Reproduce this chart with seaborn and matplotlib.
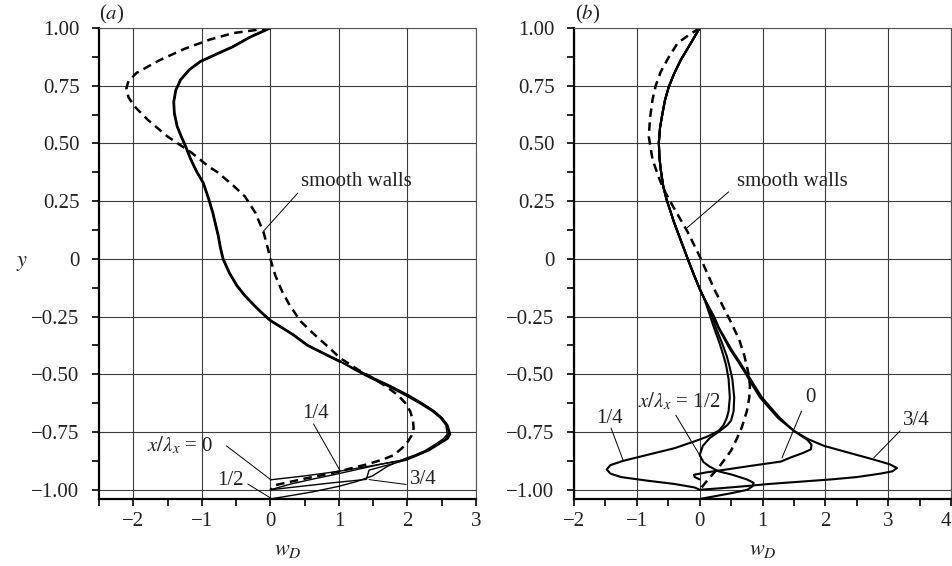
import matplotlib
matplotlib.use("Agg")
import matplotlib.pyplot as plt
import seaborn as sns
from matplotlib.ticker import MultipleLocator, FixedLocator, FixedFormatter

sns.set_style("ticks")
plt.rcParams["font.family"] = ["Liberation Serif", "DejaVu Serif"]
plt.rcParams["mathtext.fontset"] = "stix"

# ---------------- panel (a) data ----------------
A_SMOOTH_Y = [1.0, 0.978, 0.95, 0.91, 0.86, 0.806, 0.77, 0.74, 0.70, 0.66, 0.60, 0.53, 0.46, 0.40,
              0.375, 0.32, 0.27, 0.20, 0.116, 0.05, 0.0, -0.07, -0.14, -0.2, -0.27, -0.33, -0.38,
              -0.43, -0.48, -0.517, -0.555, -0.59, -0.625, -0.66, -0.70, -0.733, -0.765, -0.79,
              -0.82, -0.85, -0.87, -0.89, -0.905, -0.92, -0.935, -0.95, -0.965, -0.98, -1.0]
A_SMOOTH_X = [0, -0.54, -0.88, -1.25, -1.62, -1.95, -2.07, -2.10, -2.07, -1.98, -1.78, -1.50, -1.15,
              -0.90, -0.77, -0.55, -0.37, -0.22, -0.1, -0.04, 0.0, 0.07, 0.17, 0.28, 0.44, 0.65,
              0.84, 1.02, 1.28, 1.5, 1.70, 1.86, 1.97, 2.04, 2.08, 2.09, 2.06, 2.01, 1.92, 1.80,
              1.63, 1.41, 1.2, 1.02, 0.78, 0.53, 0.3, 0.07, 0.0]

A_ROUGH_Y_UP = [1.0, 0.96, 0.92, 0.885, 0.855, 0.82, 0.776, 0.73, 0.68, 0.63, 0.574, 0.53, 0.49,
                0.43, 0.375, 0.33, 0.26, 0.20, 0.10, 0.05, 0.0, -0.06, -0.115, -0.16, -0.2, -0.235,
                -0.267, -0.30, -0.33, -0.374, -0.41, -0.445]
A_ROUGH_X_UP = [0, -0.3, -0.54, -0.8, -1.02, -1.18, -1.31, -1.38, -1.41, -1.40, -1.36, -1.30, -1.24,
                -1.16, -1.07, -0.98, -0.90, -0.84, -0.76, -0.73, -0.69, -0.60, -0.49, -0.37, -0.24,
                -0.12, 0.0, 0.18, 0.34, 0.54, 0.78, 1.02]

A_TAIL_Y_0 = [-0.48, -0.517, -0.55, -0.59, -0.625, -0.66, -0.69, -0.72, -0.76, -0.78, -0.80, -0.83,
              -0.85, -0.87, -0.895, -0.92, -0.94, -0.957]
A_TAIL_X_0 = [1.24, 1.48, 1.72, 1.98, 2.19, 2.37, 2.49, 2.57, 2.62, 2.57, 2.47, 2.30, 2.15, 1.98,
              1.5, 1.0, 0.5, 0.0]
A_TAIL_Y_14 = [-0.48, -0.517, -0.55, -0.59, -0.625, -0.66, -0.69, -0.72, -0.76, -0.78, -0.80, -0.83,
               -0.85, -0.87, -0.89, -0.91, -0.93, -0.955, -0.975, -1.0]
A_TAIL_X_14 = [1.27, 1.52, 1.76, 2.02, 2.22, 2.40, 2.51, 2.58, 2.60, 2.55, 2.45, 2.28, 2.12, 1.95,
               1.6, 1.3, 1.0, 0.6, 0.3, 0.0]
A_TAIL_Y_12 = [-0.48, -0.517, -0.55, -0.59, -0.625, -0.66, -0.69, -0.72, -0.76, -0.78, -0.80, -0.83,
               -0.85, -0.87, -0.90, -0.94, -0.965, -0.985, -1.01, -1.04]
A_TAIL_X_12 = [1.22, 1.46, 1.70, 1.96, 2.17, 2.36, 2.48, 2.56, 2.58, 2.52, 2.42, 2.26, 2.10, 1.92,
               1.7, 1.49, 1.25, 1.0, 0.6, 0.0]
A_TAIL_Y_34 = [-0.48, -0.517, -0.55, -0.59, -0.625, -0.66, -0.69, -0.72, -0.76, -0.78, -0.80, -0.83,
               -0.85, -0.87, -0.89, -0.915, -0.955, -0.97, -0.985, -1.0]
A_TAIL_X_34 = [1.25, 1.50, 1.74, 2.00, 2.21, 2.39, 2.51, 2.59, 2.63, 2.59, 2.48, 2.32, 2.16, 2.00,
               1.75, 1.44, 1.40, 0.9, 0.45, 0.0]

# ---------------- panel (b) data ----------------
B_SMOOTH_Y = [1.0, 0.97, 0.935, 0.87, 0.81, 0.75, 0.69, 0.61, 0.53, 0.43, 0.345, 0.30, 0.23, 0.116,
              0.0, -0.13, -0.2, -0.27, -0.35, -0.418, -0.5, -0.55, -0.6, -0.66, -0.73, -0.78, -0.83,
              -0.86, -0.905, -0.935, -0.96, -0.99, -1.0]
B_SMOOTH_X = [0, -0.17, -0.35, -0.5, -0.62, -0.70, -0.75, -0.79, -0.81, -0.75, -0.64, -0.57, -0.43,
              -0.19, 0.02, 0.23, 0.36, 0.49, 0.63, 0.71, 0.78, 0.80, 0.79, 0.75, 0.67, 0.59, 0.5,
              0.42, 0.3, 0.2, 0.12, 0.03, 0.0]

B_ROUGH_Y_UP = [1.0, 0.93, 0.862, 0.8, 0.746, 0.69, 0.633, 0.57, 0.504, 0.44, 0.388, 0.315, 0.26,
                0.16, 0.08, 0.0, -0.07, -0.13, -0.17]
B_ROUGH_X_UP = [0, -0.15, -0.3, -0.41, -0.49, -0.55, -0.59, -0.63, -0.65, -0.64, -0.62, -0.58, -0.53,
                -0.41, -0.3, -0.19, -0.09, 0.0, 0.07]

B_TAIL_Y_14 = [-0.25, -0.3, -0.36, -0.42, -0.46, -0.52, -0.6, -0.66, -0.69, -0.72, -0.745, -0.77,
               -0.79, -0.82, -0.85, -0.875, -0.893, -0.912, -0.93, -0.945, -0.96, -0.975, -0.99, -1.0]
B_TAIL_X_14 = [0.17, 0.23, 0.31, 0.38, 0.42, 0.46, 0.48, 0.46, 0.43, 0.38, 0.3, 0.12, -0.08, -0.4,
               -0.85, -1.22, -1.42, -1.48, -1.42, -1.25, -0.85, -0.4, -0.08, 0.0]
B_TAIL_Y_12 = [-0.25, -0.3, -0.36, -0.42, -0.46, -0.52, -0.6, -0.66, -0.7, -0.72, -0.75, -0.776,
               -0.81, -0.85, -0.88, -0.9, -0.92, -0.935, -0.955, -0.97, -0.985, -1.0, -1.015, -1.025,
               -1.04]
B_TAIL_X_12 = [0.2, 0.26, 0.35, 0.43, 0.47, 0.52, 0.55, 0.54, 0.5, 0.44, 0.3, 0.16, 0.05, 0.0, 0.06,
               0.16, 0.3, 0.52, 0.75, 0.86, 0.84, 0.76, 0.5, 0.3, 0.0]
B_TAIL_Y_0 = [-0.25, -0.3, -0.39, -0.44, -0.5, -0.53, -0.6, -0.65, -0.69, -0.745, -0.785, -0.805,
              -0.825, -0.84, -0.86, -0.878, -0.895, -0.914, -0.925, -0.935, -0.945, -0.955]
B_TAIL_X_0 = [0.22, 0.3, 0.48, 0.6, 0.74, 0.8, 0.96, 1.12, 1.25, 1.5, 1.72, 1.78, 1.77, 1.65, 1.45,
              1.29, 0.85, 0.38, 0.1, -0.09, -0.08, 0.0]
B_TAIL_Y_34 = [-0.25, -0.3, -0.39, -0.44, -0.5, -0.53, -0.6, -0.65, -0.69, -0.745, -0.78, -0.81,
               -0.84, -0.87, -0.89, -0.906, -0.92, -0.93, -0.945, -0.955, -0.965, -0.975, -0.985,
               -0.993, -1.0]
B_TAIL_X_34 = [0.23, 0.31, 0.5, 0.62, 0.76, 0.83, 0.99, 1.15, 1.28, 1.5, 1.72, 1.98, 2.38, 2.78,
               3.03, 3.14, 3.07, 2.88, 2.5, 2.1, 1.6, 1.1, 0.7, 0.35, 0.0]

# ---------------- axis ticks ----------------
Y_TICKS = [1.0, 0.75, 0.5, 0.25, 0.0, -0.25, -0.5, -0.75, -1.0]
Y_LABELS = ["1.00", "0.75", "0.50", "0.25", "0", "\u22120.25", "\u22120.50", "\u22120.75", "\u22121.00"]
XA_TICKS = [-2, -1, 0, 1, 2, 3]
XA_LABELS = ["\u22122", "\u22121", "0", "1", "2", "3"]
XB_TICKS = [-2, -1, 0, 1, 2, 3, 4]
XB_LABELS = ["\u22122", "\u22121", "0", "1", "2", "3", "4"]

FS = 15
W, H = 953, 566
fig = plt.figure(figsize=(W / 100, H / 100), dpi=100)
ax_a = fig.add_axes([99 / W, 67 / H, 377 / W, 471 / H])
ax_b = fig.add_axes([574 / W, 67 / H, 377 / W, 471 / H])
TXT = "#222222"


def line(ax, x, y, lw, dashed=False):
    kw = dict(sort=False, estimator=None, ax=ax, color="black", lw=lw, legend=False)
    if dashed:
        kw["linestyle"] = (0, (3.4, 2.2))
    sns.lineplot(x=x, y=y, **kw)


def style(ax, xlim, xt, xl):
    ax.set_xlim(*xlim)
    ax.set_ylim(-1.04, 1.0)
    ax.xaxis.set_major_locator(FixedLocator(xt))
    ax.xaxis.set_major_formatter(FixedFormatter(xl))
    ax.xaxis.set_minor_locator(MultipleLocator(0.5))
    ax.yaxis.set_major_locator(FixedLocator(Y_TICKS))
    ax.yaxis.set_major_formatter(FixedFormatter(Y_LABELS))
    ax.yaxis.set_minor_locator(MultipleLocator(0.125))
    ax.grid(True, which="major", color="#3c3c3c", lw=0.8)
    ax.set_axisbelow(True)
    for s in ["left", "bottom"]:
        ax.spines[s].set_linewidth(1.6)
        ax.spines[s].set_color("black")
    for s in ["top", "right"]:
        ax.spines[s].set_linewidth(0.8)
        ax.spines[s].set_color("#555555")
    ax.tick_params(which="both", direction="out", length=5, width=1.2, color="black",
                   labelsize=FS, top=False, right=False, labelcolor=TXT)
    ax.tick_params(axis="x", which="both", pad=4)
    ax.tick_params(axis="y", which="both", pad=9)
    ax.set_xlabel(r"$w_D$", fontsize=FS + 1, color=TXT)
    ax.xaxis.set_label_coords(0.5, -(550 - 499) / 471)
    ax.xaxis.label.set_va("center")
    ax.set_ylabel("")


def pointer(ax, start, end):
    ax.annotate("", xy=end, xytext=start,
                arrowprops=dict(arrowstyle="-", lw=0.7, color="black", shrinkA=0, shrinkB=0))


# ---- panel (a)
line(ax_a, A_SMOOTH_X, A_SMOOTH_Y, 1.8, dashed=True)
for tx, ty in [(A_TAIL_X_0, A_TAIL_Y_0), (A_TAIL_X_14, A_TAIL_Y_14),
               (A_TAIL_X_12, A_TAIL_Y_12), (A_TAIL_X_34, A_TAIL_Y_34)]:
    line(ax_a, A_ROUGH_X_UP + tx, A_ROUGH_Y_UP + ty, 1.0)
line(ax_a, A_ROUGH_X_UP, A_ROUGH_Y_UP, 2.0)
style(ax_a, (-2.5, 3.0), XA_TICKS, XA_LABELS)
ax_a.set_ylabel(r"$y$", rotation=0, fontsize=FS + 1, color=TXT)
ax_a.yaxis.set_label_coords((22 - 99) / 377, 0.5)
ax_a.yaxis.label.set_va("center")
ax_a.yaxis.label.set_ha("center")

tk = dict(fontsize=FS, color=TXT, va="center", ha="left")
ax_a.text(0.44, 0.335, "smooth walls", **tk)
pointer(ax_a, (0.40, 0.285), (-0.1, 0.12))
ax_a.text(-1.80, -0.806, r"$x/\lambda_x$ = 0", **tk)
pointer(ax_a, (-0.64, -0.81), (0.0, -0.955))
ax_a.text(-0.78, -0.962, "1/2", **tk)
pointer(ax_a, (-0.33, -0.975), (0.0, -1.035))
ax_a.text(0.46, -0.668, "1/4", **tk)
pointer(ax_a, (0.63, -0.715), (1.02, -0.919))
ax_a.text(2.04, -0.955, "3/4", **tk)
pointer(ax_a, (1.98, -0.977), (1.44, -0.956))

# ---- panel (b)
line(ax_b, B_SMOOTH_X, B_SMOOTH_Y, 1.8, dashed=True)
for tx, ty in [(B_TAIL_X_0, B_TAIL_Y_0), (B_TAIL_X_14, B_TAIL_Y_14),
               (B_TAIL_X_12, B_TAIL_Y_12), (B_TAIL_X_34, B_TAIL_Y_34)]:
    line(ax_b, B_ROUGH_X_UP + tx, B_ROUGH_Y_UP + ty, 1.5)
style(ax_b, (-2.0, 4.0), XB_TICKS, XB_LABELS)
ax_b.get_xticklabels()[-1].set_ha("right")

ax_b.text(0.60, 0.335, "smooth walls", **tk)
pointer(ax_b, (0.46, 0.29), (-0.22, 0.13))
ax_b.text(-0.98, -0.616, r"$x/\lambda_x$ = 1/2", **tk)
pointer(ax_b, (-0.38, -0.677), (0.0, -0.85))
ax_b.text(-1.65, -0.69, "1/4", **tk)
pointer(ax_b, (-1.41, -0.733), (-1.22, -0.871))
ax_b.text(1.68, -0.60, "0", **tk)
pointer(ax_b, (1.62, -0.66), (1.31, -0.862))
ax_b.text(3.24, -0.70, "3/4", **tk)
pointer(ax_b, (3.19, -0.745), (2.77, -0.862))

# ---- panel labels
fig.text(112 / W, 1 - 14 / H, r"($a$)", fontsize=FS, ha="center", va="center", color=TXT)
fig.text(588 / W, 1 - 14 / H, r"($b$)", fontsize=FS, ha="center", va="center", color=TXT)

fig.savefig("out.png", dpi=100)
